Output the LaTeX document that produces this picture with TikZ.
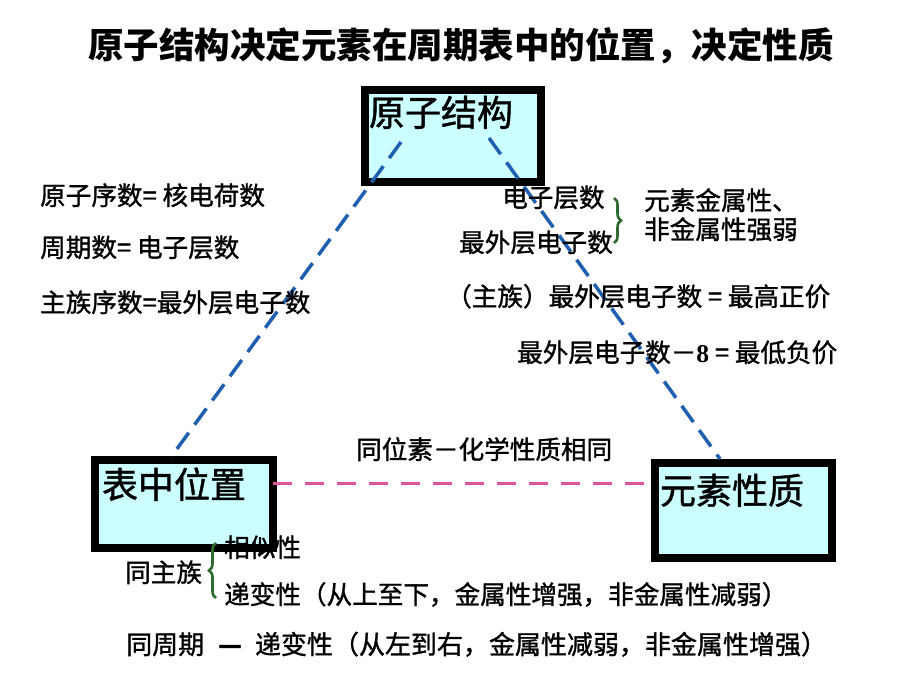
\documentclass[tikz,border=0pt]{standalone}
\usepackage{fontspec}
\setmainfont{Noto Sans CJK SC}
\newfontfamily\bodyfont[FakeBold=1.2]{Noto Sans CJK SC}
\newfontfamily\serifnum{Liberation Serif}
\usetikzlibrary{decorations.pathreplacing}
\definecolor{boxfill}{HTML}{CCFFFF}
\definecolor{lineblue}{HTML}{1F5FB0}
\definecolor{linepink}{HTML}{DD5599}
\definecolor{bracegreen}{HTML}{2E6B2E}
\begin{document}
\begin{tikzpicture}[x=1pt,y=-1pt,
  box/.style={draw=black,line width=8pt,fill=boxfill,inner ysep=0pt,
    align=left,anchor=north west,font=\bodyfont\fontsize{36}{40}\selectfont},
  lbl/.style={anchor=base west,inner sep=0pt,font=\bodyfont\fontsize{25.6}{30}\selectfont},
  titletext/.style={anchor=base west,inner sep=0pt,font=\fontsize{35.5}{40}\selectfont\bfseries},
  bluedash/.style={draw=lineblue,line width=3.5pt,dash pattern=on 20pt off 10pt},
  pinkdash/.style={draw=linepink,line width=3pt,dash pattern=on 19pt off 13pt},
  gbrace/.style={draw=bracegreen,line width=2.6pt,decorate,decoration={brace,amplitude=7pt}}
]
\useasboundingbox (0,0) rectangle (920,690);
\fill[white] (0,0) rectangle (920,690);

\node[titletext] (title) at (88,59) {原子结构决定元素在周期表中的位置，决定性质};

% boxes
\node[box,text width=168pt,inner xsep=4pt,text height=36pt,text depth=56pt] (atom) at (361,86) {原子结构};
\node[box,text width=164pt,inner xsep=7pt,text height=38pt,text depth=50pt] (pos) at (91,456) {表中位置};
\node[box,text width=167pt,inner xsep=5pt,text height=41pt,text depth=54pt] (prop) at (651,459) {元素性质};

% connectors
\coordinate (aL) at (401,142);
\coordinate (pT) at (171,457);
\coordinate (aR) at (489,138);
\coordinate (qT) at (720,459);
\coordinate (pR) at (273,483);
\coordinate (qL) at (648,483);
\draw[bluedash] (aL) -- (pT);
\draw[bluedash] (aR) -- (qT);
\draw[pinkdash] (pR) -- (qL);

% left texts
\node[lbl] (l1) at (40,205) {原子序数= 核电荷数};
\node[lbl] (l2) at (40,257) {周期数= 电子层数};
\node[lbl] (l3) at (40,312) {主族序数=最外层电子数};

% right texts
\node[lbl] (r1) at (502,207) {电子层数};
\node[lbl] (r2) at (459,252) {最外层电子数};
\node[lbl] (r3) at (644,210) {元素金属性、};
\node[lbl] (r4) at (644,239) {非金属性强弱};
\draw[gbrace] (614,198) -- (614,243);
\node[lbl] (r5) at (446,306) {（主族）最外层电子数 = 最高正价};
\node[lbl] (r6) at (517,362) {最外层电子数－{\serifnum\bfseries 8} = 最低负价};

\node[lbl] (iso) at (356,459) {同位素－化学性质相同};

% bottom texts
\node[lbl] (b1) at (224,557) {相似性};
\node[lbl] (b0) at (125,582) {同主族};
\draw[gbrace] (216,598) -- (216,543);
\node[lbl] (b2) at (224,604) {递变性（从上至下，金属性增强，非金属性减弱）};
\node[lbl,font=\bodyfont\fontsize{26}{30}\selectfont] (b3) at (126,654) {同周期\hspace{14pt}\textbf{—}\hspace{13pt}递变性（从左到右，金属性减弱，非金属性增强）};
\end{tikzpicture}
\end{document}
